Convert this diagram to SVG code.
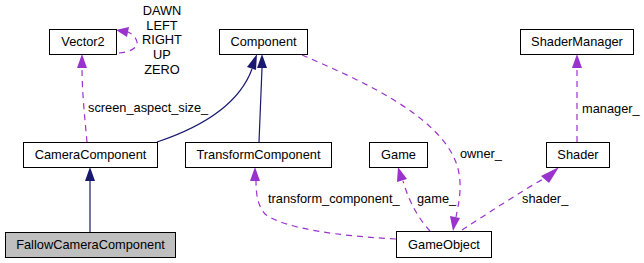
<svg xmlns="http://www.w3.org/2000/svg" width="644" height="263" viewBox="0 0 644 263">
  <defs>
    <style>
      .box { fill: #ffffff; stroke: #000000; stroke-width: 1; }
      .cur { fill: #bfbfbf; stroke: #000000; stroke-width: 1; }
      .lbl { font-family: "Liberation Sans", Arial, sans-serif; font-size: 12.8px; fill: #000000; }
      .name { text-anchor: middle; }
      .inh { fill: none; stroke: #191970; stroke-width: 1.2; }
      .use { fill: none; stroke: #9a32cd; stroke-width: 1.2; stroke-dasharray: 6,5; }
    </style>
  </defs>
  <rect width="644" height="263" fill="#ffffff"/>

  <g id="connectors">
    <!-- inheritance -->
    <path class="inh" d="M90,232 L90,181"/>
    <path d="M90,167 L85,181 L95,181 Z" fill="#191970"/>
    <path class="inh" d="M157,142 C190,131 237,110 252,69"/>
    <path d="M257,54 L247,67 L256,70 Z" fill="#191970"/>
    <path class="inh" d="M259,142 L262,68"/>
    <path d="M262,54 L257,68 L267,68 Z" fill="#191970"/>

    <!-- usage -->
    <path class="use" d="M119,53 C130,52 138,48 137,42 C136,37 132,34 128,32"/>
    <path d="M116,30 L129,27 L127,37 Z" fill="#9a32cd"/>

    <path class="use" d="M87,142 C85,120 82,92 82,68"/>
    <path d="M82,54 L77,68 L87,68 Z" fill="#9a32cd"/>

    <path class="use" d="M302,55 C360,80 440,115 457,165 C463,185 459,202 456,217"/>
    <path d="M453,231 L450,216 L460,218 Z" fill="#9a32cd"/>

    <path class="use" d="M577,142 L577,68"/>
    <path d="M577,54 L572,68 L582,68 Z" fill="#9a32cd"/>

    <path class="use" d="M396,239 C340,236 285,229 265,214 C258,206 256,195 256,181"/>
    <path d="M255,167 L250,181 L260,181 Z" fill="#9a32cd"/>

    <path class="use" d="M430,231 C420,220 410,205 403,181"/>
    <path d="M398,167 L397,182 L407,179 Z" fill="#9a32cd"/>

    <path class="use" d="M462,230 C490,212 520,192 545,178"/>
    <path d="M559,167 L541,176 L549,183 Z" fill="#9a32cd"/>

    <!-- edge labels -->
    <text class="lbl name" x="162" y="15">DAWN</text>
    <text class="lbl name" x="162" y="30">LEFT</text>
    <text class="lbl name" x="162" y="44">RIGHT</text>
    <text class="lbl name" x="162" y="59">UP</text>
    <text class="lbl name" x="162" y="74">ZERO</text>
    <text class="lbl" x="88" y="112">screen_aspect_size_</text>
    <text class="lbl" x="460" y="158">owner_</text>
    <text class="lbl" x="582" y="113">manager_</text>
    <text class="lbl" x="268" y="203">transform_component_</text>
    <text class="lbl" x="417" y="203">game_</text>
    <text class="lbl" x="522" y="203">shader_</text>
  </g>

  <g id="Vector2">
    <rect class="box" x="49.5" y="29.5" width="67" height="25"/>
    <text class="lbl name" x="83" y="46">Vector2</text>
  </g>
  <g id="Component">
    <rect class="box" x="219.5" y="29.5" width="88" height="25"/>
    <text class="lbl name" x="263.5" y="46">Component</text>
  </g>
  <g id="ShaderManager">
    <rect class="box" x="520.5" y="29.5" width="113" height="25"/>
    <text class="lbl name" x="577" y="46">ShaderManager</text>
  </g>
  <g id="CameraComponent">
    <rect class="box" x="23.5" y="142.5" width="134" height="25"/>
    <text class="lbl name" x="90.5" y="159">CameraComponent</text>
  </g>
  <g id="TransformComponent">
    <rect class="box" x="185.5" y="142.5" width="146" height="25"/>
    <text class="lbl name" x="258.5" y="159">TransformComponent</text>
  </g>
  <g id="Game">
    <rect class="box" x="369.5" y="142.5" width="58" height="25"/>
    <text class="lbl name" x="398.5" y="159">Game</text>
  </g>
  <g id="Shader">
    <rect class="box" x="546.5" y="142.5" width="63" height="25"/>
    <text class="lbl name" x="578" y="159">Shader</text>
  </g>
  <g id="GameObject">
    <rect class="box" x="396.5" y="231.5" width="95" height="26"/>
    <text class="lbl name" x="444" y="248.5">GameObject</text>
  </g>
  <g id="FallowCameraComponent">
    <rect class="cur" x="5.5" y="232.5" width="170" height="25"/>
    <text class="lbl name" x="90.5" y="249">FallowCameraComponent</text>
  </g>
</svg>
